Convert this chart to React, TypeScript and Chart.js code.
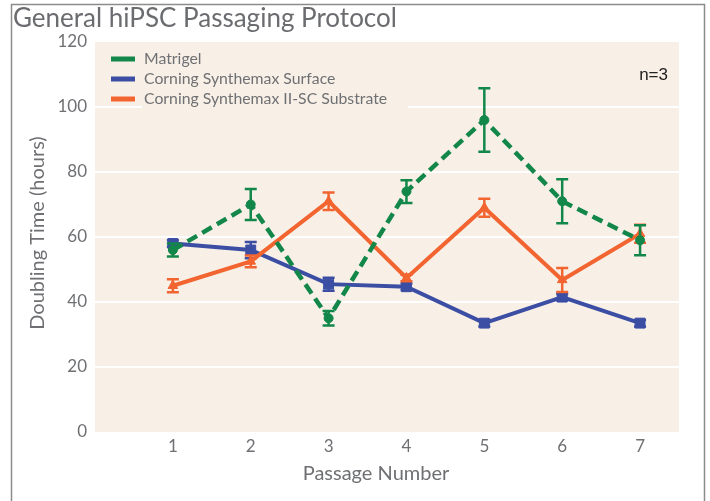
import { useEffect, useRef } from "react";
import { Chart, registerables } from "chart.js";

Chart.register(...registerables);

const chartTitle = "General hiPSC Passaging Protocol";
const xTitle = "Passage Number";
const yTitle = "Doubling Time (hours)";
const noteText = "n=3";
const passages = [1, 2, 3, 4, 5, 6, 7];
const yTicks = [0, 20, 40, 60, 80, 100, 120];
const seriesNames = ["Matrigel", "Corning Synthemax Surface", "Corning Synthemax II-SC Substrate"];
const seriesColors = ["#13874a", "#3b4ea3", "#f26430"];
const matrigel = [56, 70, 35, 74, 96, 71, 59];
const matrigelErr = [2, 4.8, 2.2, 3.5, 9.8, 6.8, 4.6];
const synthemax = [58, 56, 45.5, 44.7, 33.5, 41.5, 33.5];
const synthemaxErr = [1, 2.5, 2, 1, 1, 1, 1];
const substrate = [45, 52.5, 71, 47.4, 69, 46.8, 61];
const substrateErr = [2, 1.8, 2.7, 1, 2.8, 3.7, 2.8];

const seriesValues = [matrigel, synthemax, substrate];
const seriesErrors = [matrigelErr, synthemaxErr, substrateErr];

const TEXT_GRAY = "#6f7073";
const BEIGE = "#f8f0e7";
const FONT = "Lato";

export default function App() {
  const canvasRef = useRef<HTMLCanvasElement | null>(null);

  useEffect(() => {
    const canvas = canvasRef.current;
    if (!canvas) return;

    const decor = {
      id: "decor",
      beforeDraw(chart: any) {
        const { ctx, chartArea } = chart;
        ctx.save();
        ctx.fillStyle = "#ffffff";
        ctx.fillRect(0, 0, chart.width, chart.height);
        ctx.fillStyle = BEIGE;
        ctx.fillRect(chartArea.left, chartArea.top, chartArea.right - chartArea.left, chartArea.bottom - chartArea.top);
        // frame
        ctx.strokeStyle = "#8c8c8c";
        ctx.lineWidth = 1.5;
        ctx.beginPath();
        ctx.moveTo(11.5, chart.height);
        ctx.lineTo(11.5, 4.5);
        ctx.lineTo(704.5, 4.5);
        ctx.lineTo(704.5, chart.height);
        ctx.stroke();
        ctx.restore();
      },
      afterDatasetDraw(chart: any, args: any) {
        const i = args.index;
        const errs = seriesErrors[i];
        const vals = seriesValues[i];
        const xs = chart.scales.x;
        const ys = chart.scales.y;
        const ctx = chart.ctx;
        ctx.save();
        ctx.strokeStyle = seriesColors[i];
        ctx.lineWidth = 2.5;
        ctx.setLineDash([]);
        for (let k = 0; k < vals.length; k++) {
          const px = xs.getPixelForValue(passages[k]);
          const yTop = ys.getPixelForValue(vals[k] + errs[k]);
          const yBot = ys.getPixelForValue(vals[k] - errs[k]);
          ctx.beginPath();
          ctx.moveTo(px, yTop);
          ctx.lineTo(px, yBot);
          ctx.moveTo(px - 6, yTop);
          ctx.lineTo(px + 6, yTop);
          ctx.moveTo(px - 6, yBot);
          ctx.lineTo(px + 6, yBot);
          ctx.stroke();
        }
        ctx.restore();
      },
      afterDraw(chart: any) {
        const { ctx, chartArea } = chart;
        ctx.save();
        // legend background covering grid
        ctx.fillStyle = BEIGE;
        ctx.fillRect(142, 48, 266, 60);
        seriesNames.forEach((name, i) => {
          const y = 59 + i * 20;
          ctx.strokeStyle = seriesColors[i];
          ctx.lineWidth = 5;
          ctx.setLineDash([]);
          ctx.beginPath();
          ctx.moveTo(111, y);
          ctx.lineTo(135, y);
          ctx.stroke();
          ctx.fillStyle = TEXT_GRAY;
          ctx.font = `15.8px ${FONT}`;
          ctx.textAlign = "left";
          ctx.textBaseline = "middle";
          ctx.fillText(name, 144, y);
        });
        // n=3
        ctx.fillStyle = "#222222";
        ctx.font = `17px "Liberation Sans"`;
        ctx.textAlign = "right";
        ctx.textBaseline = "middle";
        ctx.fillText(noteText, 668, 75);
        // title
        ctx.fillStyle = "#6b6c6f";
        ctx.font = `28px ${FONT}`;
        const w = ctx.measureText(chartTitle).width;
        const size = 28 * 384 / w;
        ctx.font = `${size}px ${FONT}`;
        ctx.textAlign = "left";
        ctx.textBaseline = "alphabetic";
        ctx.fillText(chartTitle, 13, 27);
        // x title
        ctx.fillStyle = TEXT_GRAY;
        ctx.font = `20px ${FONT}`;
        ctx.textAlign = "center";
        ctx.textBaseline = "middle";
        ctx.fillText(xTitle, 376, 474);
        // y title
        ctx.translate(38, (chartArea.top + chartArea.bottom) / 2 - 4);
        ctx.rotate(-Math.PI / 2);
        ctx.fillText(yTitle, 0, 0);
        ctx.restore();
      },
    };

    const styles = [
      { pointStyle: "circle", pointRadius: 4.5, borderDash: [11, 6], borderWidth: 4.5, order: 0 },
      { pointStyle: "rect", pointRadius: 7, borderDash: [], borderWidth: 4, order: 2 },
      { pointStyle: "triangle", pointRadius: 5.5, borderDash: [], borderWidth: 4, order: 1 },
    ];

    const chart = new Chart(canvas, {
      type: "line",
      data: {
        datasets: seriesNames.map((name, i) => ({
          label: name,
          data: seriesValues[i].map((v, k) => ({ x: passages[k], y: v })),
          borderColor: seriesColors[i],
          backgroundColor: seriesColors[i],
          pointBackgroundColor: seriesColors[i],
          pointBorderColor: seriesColors[i],
          pointBorderWidth: 1,
          tension: 0,
          fill: false,
          ...styles[i],
        })),
      },
      options: {
        animation: false,
        responsive: false,
        devicePixelRatio: 1,
        layout: { padding: { left: 0, top: 42, right: 31, bottom: 0 } },
        plugins: {
          legend: { display: false },
          title: { display: false },
          tooltip: { enabled: false },
        },
        scales: {
          x: {
            type: "linear",
            min: 0,
            max: 7.5,
            afterBuildTicks: (scale: any) => {
              scale.ticks = passages.map((v) => ({ value: v }));
            },
            afterFit: (scale: any) => {
              scale.height = 69;
            },
            grid: { display: false, drawTicks: false },
            border: { display: false },
            ticks: {
              padding: 4,
              color: TEXT_GRAY,
              font: { family: FONT, size: 17 },
              maxRotation: 0,
              autoSkip: false,
            },
          },
          y: {
            min: 0,
            max: 120,
            afterBuildTicks: (scale: any) => {
              scale.ticks = yTicks.map((v) => ({ value: v }));
            },
            afterFit: (scale: any) => {
              scale.width = 95;
            },
            grid: {
              drawTicks: false,
              lineWidth: 2,
              color: (c: any) =>
                c.tick && (c.tick.value === 0 || c.tick.value === 120) ? "rgba(0,0,0,0)" : "#ffffff",
            },
            border: { display: false },
            ticks: {
              padding: 8,
              color: TEXT_GRAY,
              font: { family: FONT, size: 17 },
              autoSkip: false,
            },
          },
        },
      },
      plugins: [decor],
    } as any);

    return () => chart.destroy();
  }, []);

  return (
    <div style={{ position: "absolute", left: 0, top: 0, width: 710, height: 501 }}>
      <canvas ref={canvasRef} width={710} height={501} style={{ display: "block" }} />
    </div>
  );
}
